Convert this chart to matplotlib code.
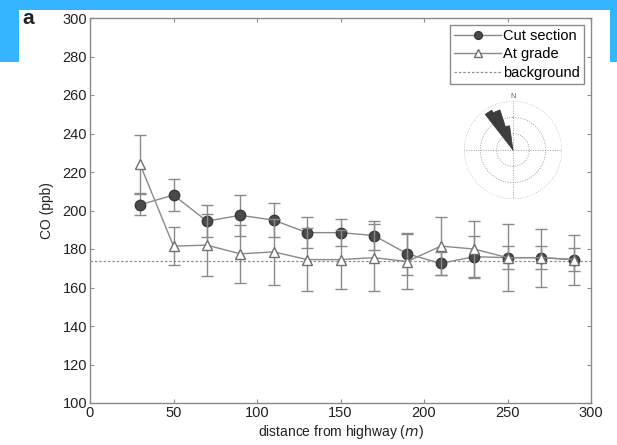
import matplotlib.pyplot as plt
import numpy as np
from matplotlib.patches import Rectangle

plt.rcParams['font.family'] = ['Liberation Sans', 'DejaVu Sans']

# CO concentration vs. distance from the highway
distance = [30, 50, 70, 90, 110, 130, 150, 170, 190, 210, 230, 250, 270, 290]
cut_co = [203, 208, 194.5, 197.5, 195, 188.5, 188.5, 187, 177.5, 172.5, 176, 175.5, 175.5, 174.5]
cut_err = [5.5, 8.5, 8.5, 10.5, 9, 8, 7, 7.5, 11, 6, 11, 6, 6, 6]
grade_co = [224, 181.5, 182, 177.5, 178.5, 174.5, 174.5, 175.5, 173.5, 181.5, 180, 175.5, 175.5, 174.5]
grade_err = [15, 10, 16, 15, 17, 16.5, 15.5, 17.5, 14.5, 15, 14.5, 17.5, 15, 13]
background = 174

# wind rose (direction in degrees from north, relative frequency)
wind_dir = [327, 337, 347]
wind_freq = [0.92, 0.86, 0.5]

fig = plt.figure(figsize=(6.17, 4.45), dpi=100)
ax = fig.add_axes([90 / 617, 42 / 445, 501 / 617, 385 / 445])

line_gray = '#8a8a8a'
cut = ax.errorbar(distance, cut_co, yerr=cut_err, color=line_gray, lw=1.0,
                  marker='o', ms=7.5, mfc='#4a4a4a', mec='#3a3a3a', mew=1.0,
                  ecolor=line_gray, elinewidth=1.0, capsize=4.5, capthick=1.0,
                  zorder=3)
grade = ax.errorbar(distance, grade_co, yerr=grade_err, color=line_gray, lw=1.0,
                    marker='^', ms=7.5, mfc='white', mec='#707070', mew=1.0,
                    ecolor=line_gray, elinewidth=1.0, capsize=4.5, capthick=1.0,
                    zorder=4)
bg = ax.axhline(background, color='#909090', lw=0.9, ls=(0, (2, 1.5)), zorder=2)

ax.set_xlim(0, 300)
ax.set_ylim(100, 300)
ax.set_xticks(np.arange(0, 301, 50))
ax.set_yticks(np.arange(100, 301, 20))
ax.tick_params(direction='in', top=True, right=True, length=3, width=0.8,
               color='#909090', labelsize=10.5, labelcolor='#222222', pad=2)
for s in ax.spines.values():
    s.set_color('#8a8a8a')
    s.set_linewidth(1.0)

ax.set_xlabel('distance from highway ($\\it{m}$)', fontsize=10, color='#222222', labelpad=2)
ax.set_ylabel('CO (ppb)', fontsize=10, color='#222222', labelpad=6)

# legend shows only line + marker, no error bars
leg = ax.legend([cut[0], grade[0], bg], ['Cut section', 'At grade', 'background'],
                loc='upper right', fontsize=10.5, frameon=True, fancybox=False,
                handlelength=3.2, handletextpad=0.15, borderpad=0.3,
                labelspacing=0.3, borderaxespad=0.45, markerscale=0.75)
leg.get_frame().set_edgecolor('#707070')
leg.get_frame().set_linewidth(1.0)

fig.text(28 / 617, 1 - 18 / 445, 'a', fontsize=15, fontweight='bold',
         ha='center', va='center', color='#222222')

# wind rose inset
rad = 49
cx, cy = 513, 150
pax = fig.add_axes([(cx - rad) / 617, 1 - (cy + rad) / 445, 2 * rad / 617, 2 * rad / 445],
                   projection='polar')
pax.set_theta_zero_location('N')
pax.set_theta_direction(-1)
pax.bar(np.deg2rad(wind_dir), wind_freq, width=np.deg2rad(10), color='#3c3c3c',
        edgecolor='#3c3c3c', lw=0.5, zorder=3)
pax.set_ylim(0, 1)
pax.set_yticks([1 / 3, 2 / 3, 1])
pax.set_xticks(np.deg2rad([0, 90, 180, 270]))
pax.set_yticklabels([])
pax.set_xticklabels([])
pax.grid(True, color='#a0a0a0', lw=0.7, ls=(0, (1, 1.5)))
pax.spines['polar'].set_visible(False)
pax.patch.set_alpha(0)
pax.text(0, 1.1, 'N', fontsize=5, ha='center', va='center', color='#555555')

# blue frame at the top edge
blue = '#33b5ff'
for x0, y0, w, h in [(0, 0, 617, 10), (0, 0, 19, 62), (610, 0, 7, 62)]:
    fig.patches.append(Rectangle((x0 / 617, 1 - (y0 + h) / 445), w / 617, h / 445,
                                 transform=fig.transFigure, facecolor=blue,
                                 edgecolor='none', zorder=10))

fig.savefig('out.png', dpi=100)
